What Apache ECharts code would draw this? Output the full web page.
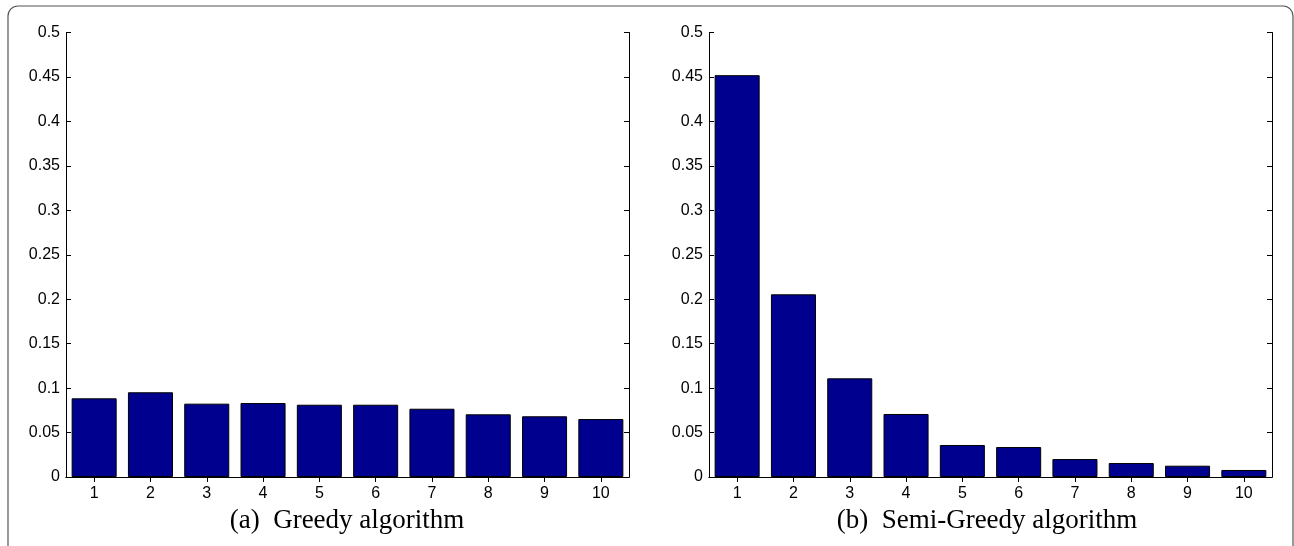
<!DOCTYPE html>
<html>
<head>
<meta charset="utf-8">
<script src="https://cdn.jsdelivr.net/npm/echarts@6/dist/echarts.min.js"></script>
<style>
  html, body { margin: 0; padding: 0; background: #fff; }
  #main { width: 1294px; height: 546px; }
</style>
</head>
<body>
<div id="main"></div>
<script>
// data
var categories = ['1', '2', '3', '4', '5', '6', '7', '8', '9', '10'];
var greedyValues = [0.0885, 0.0953, 0.0825, 0.0832, 0.0813, 0.0813, 0.0768, 0.0705, 0.0683, 0.0652];
var semiGreedyValues = [0.452, 0.2055, 0.111, 0.0709, 0.036, 0.0337, 0.0202, 0.0157, 0.0127, 0.0079];
var captions = ['(a)  Greedy algorithm', '(b)  Semi-Greedy algorithm'];

var chart = echarts.init(document.getElementById('main'));

var barColor = '#00008f';
var tickFont = { fontFamily: 'Liberation Sans', fontSize: 16, color: '#000' };

function grid(left) {
  return { left: left, top: 32.5, width: 563, height: 444.5, containLabel: false };
}

function bottomX(i) {
  return {
    type: 'category', gridIndex: i, position: 'bottom', data: categories,
    axisLine: { lineStyle: { color: '#000', width: 1 } },
    axisTick: { show: true, inside: true, length: 5, alignWithLabel: true, lineStyle: { color: '#000' } },
    axisLabel: Object.assign({ margin: 9 }, tickFont),
    splitLine: { show: false }
  };
}
function topX(i) {
  return {
    type: 'category', gridIndex: i, position: 'top', data: categories,
    axisLine: { show: true, lineStyle: { color: '#000', width: 1 } },
    axisTick: { show: true, inside: true, length: 5, alignWithLabel: true, lineStyle: { color: '#000' } },
    axisLabel: { show: false },
    splitLine: { show: false }
  };
}
function leftY(i) {
  return {
    type: 'value', gridIndex: i, position: 'left', min: 0, max: 0.5, interval: 0.05,
    axisLine: { show: true, lineStyle: { color: '#000', width: 1 } },
    axisTick: { show: true, inside: true, length: 5, lineStyle: { color: '#000' } },
    axisLabel: Object.assign({ margin: 6 }, tickFont),
    splitLine: { show: false }
  };
}
function rightY(i) {
  return {
    type: 'value', gridIndex: i, position: 'right', min: 0, max: 0.5, interval: 0.05,
    axisLine: { show: true, lineStyle: { color: '#000', width: 1 } },
    axisTick: { show: true, inside: true, length: 5, lineStyle: { color: '#000' } },
    axisLabel: { show: false },
    splitLine: { show: false }
  };
}
function bars(i, values) {
  return {
    type: 'bar', xAxisIndex: i * 2, yAxisIndex: i * 2, data: values,
    barCategoryGap: '20%',
    itemStyle: { color: barColor, borderColor: '#000', borderWidth: 1 },
    silent: true, animation: false
  };
}

var option = {
  animation: false,
  grid: [grid(66), grid(709)],
  xAxis: [bottomX(0), topX(0), bottomX(1), topX(1)],
  yAxis: [leftY(0), rightY(0), leftY(1), rightY(1)],
  series: [bars(0, greedyValues), bars(1, semiGreedyValues)],
  graphic: [
    {
      type: 'rect', silent: true,
      shape: { x: 8, y: 6, width: 1285, height: 600, r: 10 },
      style: { fill: null, stroke: '#555', lineWidth: 1.2 }
    },
    {
      type: 'text', x: 347, y: 521, silent: true,
      style: { text: captions[0], font: '27px "Liberation Serif"', fill: '#000', textAlign: 'center', textVerticalAlign: 'middle' }
    },
    {
      type: 'text', x: 987, y: 521, silent: true,
      style: { text: captions[1], font: '27px "Liberation Serif"', fill: '#000', textAlign: 'center', textVerticalAlign: 'middle' }
    }
  ]
};

chart.setOption(option);
</script>
</body>
</html>
